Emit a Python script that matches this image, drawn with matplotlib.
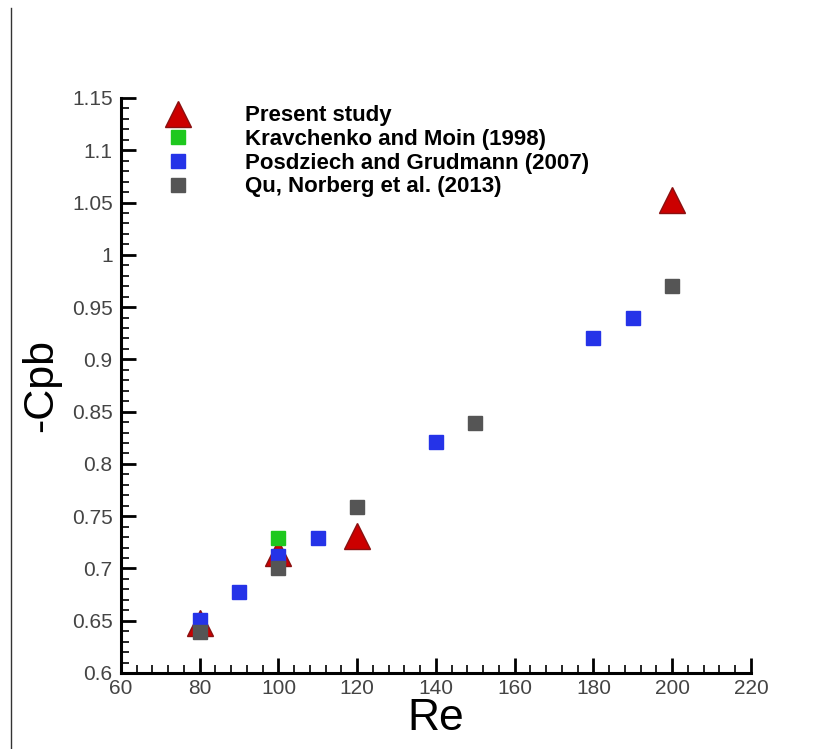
import matplotlib.pyplot as plt
from matplotlib.lines import Line2D
from matplotlib.ticker import MultipleLocator

# present study
re_present = [80, 100, 120, 200]
cpb_present = [0.648, 0.715, 0.731, 1.052]

# Kravchenko and Moin (1998)
re_krav = [100]
cpb_krav = [0.729]

# Posdziech and Grudmann (2007)
re_posd = [80, 90, 100, 110, 140, 180, 190]
cpb_posd = [0.651, 0.677, 0.712, 0.729, 0.821, 0.92, 0.94]

# Qu, Norberg et al. (2013)
re_qu = [80, 100, 120, 150, 200]
cpb_qu = [0.639, 0.70, 0.759, 0.839, 0.97]

labels = ['Present study', 'Kravchenko and Moin (1998)',
          'Posdziech and Grudmann (2007)', 'Qu, Norberg et al. (2013)']

plt.rcParams['font.family'] = ['Liberation Sans', 'DejaVu Sans']

fig = plt.figure(figsize=(8.39, 7.49), dpi=100)
ax = fig.add_axes([0.1442, 0.1015, 0.7508, 0.7677])

ax.plot(re_present, cpb_present, ls='none', marker='^', ms=19,
        color='#cc0000', mec='#8a1010', mew=1, label=labels[0])
ax.plot(re_krav, cpb_krav, ls='none', marker='s', ms=10,
        color='#1ec81e', mec='#1ec81e', label=labels[1])
ax.plot(re_posd, cpb_posd, ls='none', marker='s', ms=10,
        color='#2533e8', mec='#2533e8', label=labels[2])
ax.plot(re_qu, cpb_qu, ls='none', marker='s', ms=10,
        color='#555555', mec='#555555', label=labels[3])

ax.set_xlim(60, 220)
ax.set_ylim(0.6, 1.15)
ax.xaxis.set_minor_locator(MultipleLocator(4))
ax.yaxis.set_minor_locator(MultipleLocator(0.01))
ax.set_xticks(range(60, 221, 20))
ax.set_xticklabels([str(v) for v in range(60, 221, 20)])
yt = [0.6, 0.65, 0.7, 0.75, 0.8, 0.85, 0.9, 0.95, 1.0, 1.05, 1.1, 1.15]
ax.set_yticks(yt)
ax.set_yticklabels(['0.6', '0.65', '0.7', '0.75', '0.8', '0.85', '0.9',
                    '0.95', '1', '1.05', '1.1', '1.15'])

for s in ['top', 'right']:
    ax.spines[s].set_visible(False)
ax.spines['left'].set_linewidth(2.2)
ax.spines['bottom'].set_linewidth(2.2)

ax.tick_params(which='both', direction='in', colors='black', labelcolor='#444444',
               labelsize=15)
ax.tick_params(which='major', length=11, width=2)
ax.tick_params(which='minor', length=6, width=1.2)
ax.tick_params(axis='x', pad=4)
ax.tick_params(axis='y', pad=6)

ax.set_xlabel('Re', fontsize=32, labelpad=0)
ax.set_ylabel('-Cpb', fontsize=31, labelpad=8)

leg = ax.legend(loc='upper left', bbox_to_anchor=(0.041, 1.022), frameon=False,
                prop={'weight': 'bold', 'size': 16},
                handletextpad=2.5, labelspacing=0.12, handlelength=1.0)

# screenshot border on the left
fig.add_artist(Line2D([11 / 839, 11 / 839], [0, 1 - 8 / 749], color='#333333', lw=1))

fig.savefig('out.png', dpi=100)
